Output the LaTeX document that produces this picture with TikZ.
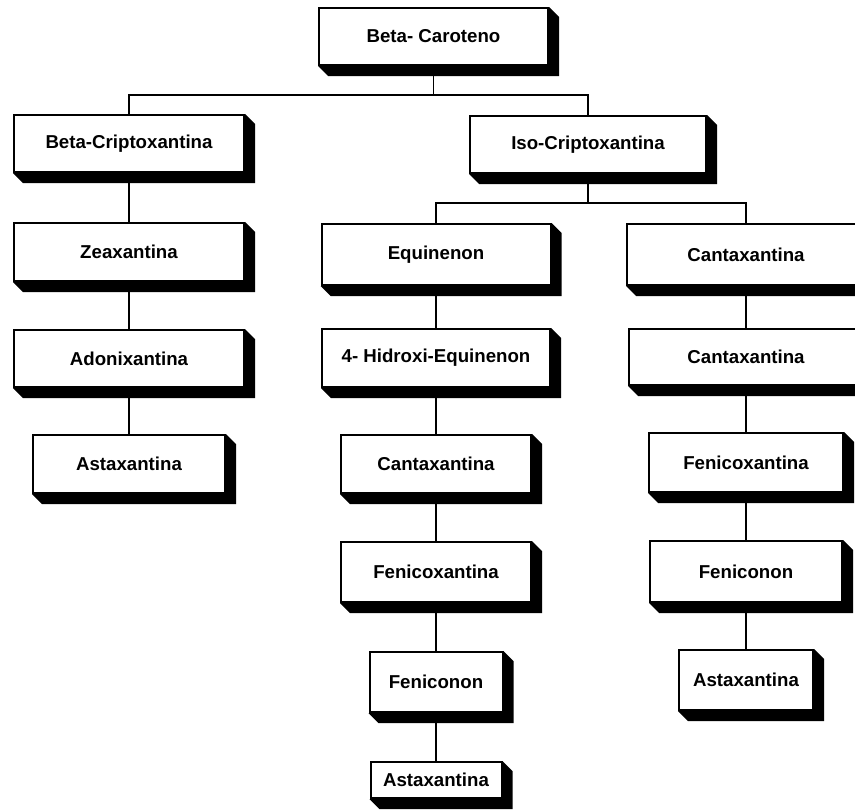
\documentclass[tikz,border=0pt]{standalone}
\usepackage{fontspec}
\setmainfont{Liberation Sans}
\usetikzlibrary{calc}

\tikzset{every picture/.style={line width=0.75pt}}
\tikzset{
  carobox/.style 2 args={draw, fill=white, line width=1.5pt, inner sep=0.75pt,
    minimum width=#1*0.75pt, minimum height=#2*0.75pt,
    font=\bfseries\fontsize{14}{16}\selectfont},
  link/.style={line width=1.3pt},
}

\begin{document}
\begin{tikzpicture}[x=0.75pt,y=0.75pt,yscale=-1,xscale=1]
\useasboundingbox (0,0) rectangle (855,810);

%Shape: Rectangle [top]
\node [carobox={229}{57}] (bc) at (433.5,36.5) {Beta- Caroteno};
%Shape: Rectangle [left column]
\node [carobox={230}{57}] (bcx) at (129,143.5) {Beta-Criptoxantina};
\node [carobox={230}{58}] (zea) at (129,252) {Zeaxantina};
\node [carobox={230}{57}] (ado) at (129,358.5) {Adonixantina};
\node [carobox={192}{58}] (astl) at (129,464) {Astaxantina};
%Shape: Rectangle [iso]
\node [carobox={236}{57}] (iso) at (588,144.5) {Iso-Criptoxantina};
%Shape: Rectangle [middle column]
\node [carobox={229}{61}] (equ) at (436,254.5) {Equinenon};
\node [carobox={228}{58}] (hid) at (436,358) {4- Hidroxi-Equinenon};
\node [carobox={190}{58}] (canm) at (436,464) {Cantaxantina};
\node [carobox={190}{60}] (fenm) at (436,572) {Fenicoxantina};
\node [carobox={133}{60}] (fncm) at (436,682) {Feniconon};
\node [carobox={131}{36}] (astm) at (436,780) {Astaxantina};
%Shape: Rectangle [right column]
\node [carobox={238}{61}] (cana) at (746,254.5) {Cantaxantina};
\node [carobox={234}{56}] (canb) at (746,357) {Cantaxantina};
\node [carobox={194}{59}] (fenr) at (746,462.5) {Fenicoxantina};
\node [carobox={192}{61}] (fncr) at (746,571.5) {Feniconon};
\node [carobox={134}{60}] (astr) at (746,680) {Astaxantina};

%Straight Lines [bus]
\coordinate (ja) at (433.5,95);
\coordinate (jb) at (588,203);
\draw [link] (bc) -- (ja);
\draw [link] (bcx.north) |- (ja) -| (iso.north);
\draw [link] (iso) -- (jb);
\draw [link] (equ.north) |- (jb) -| (cana.north);
%Straight Lines [chains]
\draw [link] (bcx) -- (zea) -- (ado) -- (astl);
\draw [link] (equ) -- (hid) -- (canm) -- (fenm) -- (fncm) -- (astm);
\draw [link] (cana) -- (canb) -- (fenr) -- (fncr) -- (astr);

%Shape: 3D edge
\foreach \n in {bc,bcx,zea,ado,astl,iso,equ,hid,canm,fenm,fncm,astm,cana,canb,fenr,fncr,astr}
  \fill (\n.south west) -- ++(10,10) -- ($(\n.south east)+(10,10)$) -- ($(\n.north east)+(10,10)$) -- (\n.north east) -- (\n.south east) -- cycle;

\end{tikzpicture}
\end{document}
